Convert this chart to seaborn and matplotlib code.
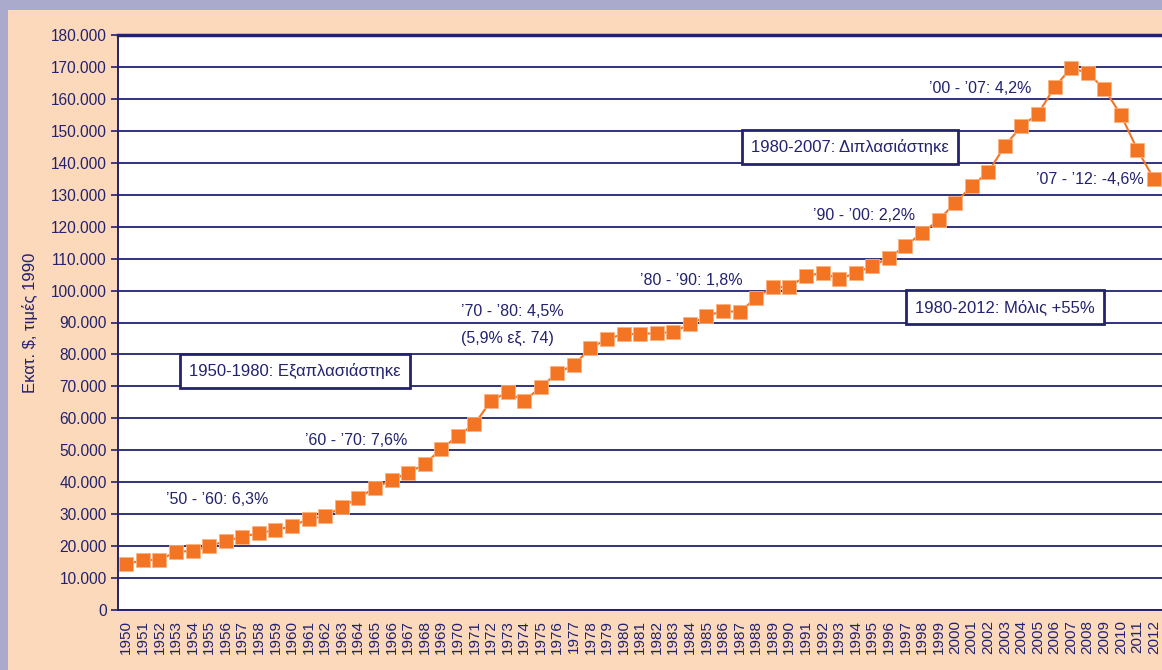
import numpy as np
import pandas as pd
import seaborn as sns
import matplotlib.pyplot as plt
from matplotlib.patches import Rectangle
from matplotlib.ticker import FuncFormatter, MultipleLocator

# data (εκατ. $, τιμές 1990)
years = list(range(1950, 2013))
values = [
	14400, 15600, 15700, 18200, 18500, 20000, 21600, 22900, 24100, 25000,
	26300, 28500, 29400, 32200, 35100, 38200, 40700, 42900, 45700, 50400,
	54500, 58200, 65400, 68200, 65400, 69800, 74200, 76700, 82000, 84800,
	86400, 86400, 86700, 87000, 89500, 92000, 93600, 93300, 97700, 101100,
	101100, 104600, 105500, 103600, 105500, 107700, 110200, 114000, 118000, 122100,
	127400, 132700, 137100, 145300, 151500, 155300, 163700, 169700, 168100, 163100,
	155000, 144000, 134900,
]

period_labels = ['’50 - ’60: 6,3%', '’60 - ’70: 7,6%', '’70 - ’80: 4,5%', '(5,9% εξ. 74)',
                 '’80 - ’90: 1,8%', '’90 - ’00: 2,2%', '’00 - ’07: 4,2%', '’07 - ’12: -4,6%']
period_x = [1952.4, 1960.8, 1970.2, 1970.2, 1981.0, 1991.4, 1998.4, 2004.9]
period_y = [34500, 53000, 93500, 85000, 103000, 123500, 163200, 134800]

box_labels = ['1950-1980: Εξαπλασιάστηκε', '1980-2007: Διπλασιάστηκε', '1980-2012: Μόλις +55%']
box_x = [1953.8, 1987.7, 1997.6]
box_y = [74800, 145000, 94900]

navy = '#22226e'
orange = '#f37423'
peach = '#fcd9bb'
lavender = '#aaaacc'

df = pd.DataFrame({'Year': years, 'Value': values})

sns.set_style('white')
plt.rcParams['font.family'] = ['Liberation Sans', 'DejaVu Sans']

fig = plt.figure(figsize=(11.62, 6.70), dpi=100, facecolor=peach)
# lavender frame at top and left
fig.patches.append(Rectangle((0, 1 - 10 / 670), 1, 10 / 670, transform=fig.transFigure,
                             facecolor=lavender, edgecolor='none', zorder=0))
fig.patches.append(Rectangle((0, 0), 8 / 1162, 1, transform=fig.transFigure,
                             facecolor=lavender, edgecolor='none', zorder=0))

ax = fig.add_axes([118 / 1162, 1 - 610 / 670, 1046 / 1162, 575 / 670])
ax.set_facecolor('white')

sns.lineplot(data=df, x='Year', y='Value', ax=ax, color=orange, linewidth=1.5,
             marker='s', markersize=9.5, markeredgecolor='#fbb27f', markeredgewidth=0.6,
             zorder=5)

ax.set_xlim(1949.5, 2012.6)
ax.set_ylim(0, 180000)
ax.yaxis.set_major_locator(MultipleLocator(10000))
ax.yaxis.set_major_formatter(FuncFormatter(lambda v, p: f'{v:,.0f}'.replace(',', '.')))
ax.grid(axis='y', color=navy, linewidth=1.3)
ax.set_axisbelow(True)

ax.set_xticks(years)
ax.set_xticklabels([str(y) for y in years], rotation=90, fontsize=11, color=navy)
ax.set_xticks(np.arange(1949.5, 2013, 1), minor=True)
ax.tick_params(axis='x', which='major', length=0, pad=7)
ax.tick_params(axis='x', which='minor', length=4, width=1, color=navy, direction='out')
ax.tick_params(axis='y', length=5, width=1.2, color=navy, labelsize=11.2, labelcolor=navy, pad=3,
               left=True)

for side in ['left', 'bottom']:
	ax.spines[side].set_color(navy)
	ax.spines[side].set_linewidth(1.4)
ax.spines['top'].set_color(navy)
ax.spines['top'].set_linewidth(2.5)
ax.spines['right'].set_visible(False)

ax.set_xlabel('')
ax.set_ylabel('Εκατ. $, τιμές 1990', fontsize=12, color=navy)
ax.yaxis.set_label_coords(-80 / 1046, 0.5)

for t, x, y in zip(period_labels, period_x, period_y):
	ax.text(x, y, t, fontsize=11.5, color=navy, va='center', ha='left', zorder=6)

for t, x, y in zip(box_labels, box_x, box_y):
	ax.text(x, y, t, fontsize=12, color=navy, va='center', ha='left', zorder=6,
	        bbox=dict(boxstyle='square,pad=0.55', facecolor='white', edgecolor=navy, linewidth=2))

fig.savefig('out.png', dpi=100, facecolor=peach)
